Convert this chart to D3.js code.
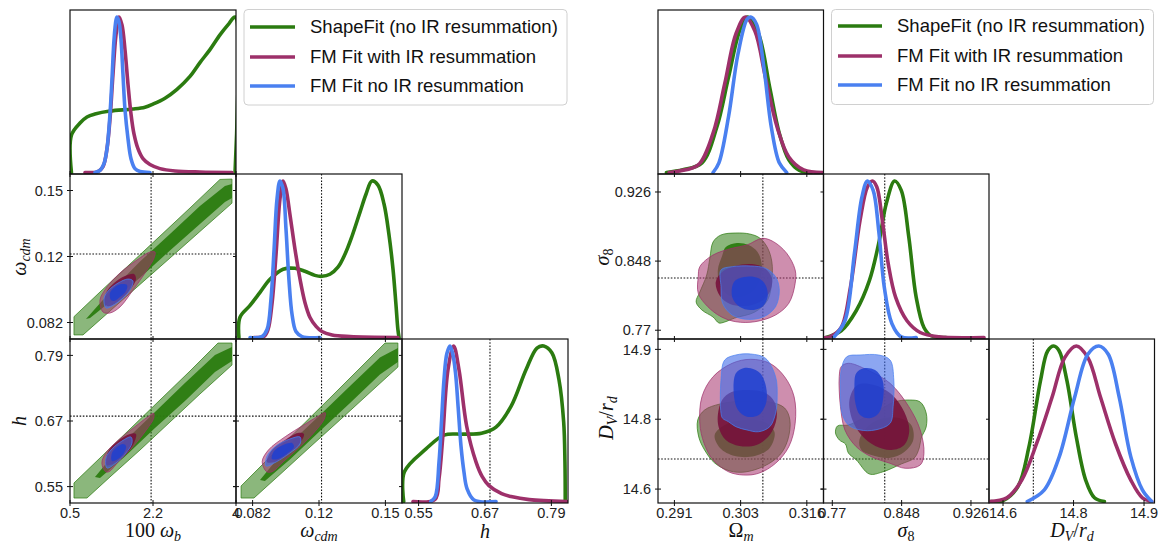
<!DOCTYPE html>
<html><head><meta charset="utf-8">
<script src="https://cdn.jsdelivr.net/npm/d3@7"></script>
<style>body{margin:0;background:#fff;}svg{display:block;}</style>
</head><body>
<svg id="c" width="1164" height="543"></svg>
<script>
// ===================== DATA =====================
const seriesNames = ["ShapeFit (no IR resummation)", "FM Fit with IR resummation", "FM Fit no IR resummation"];

// ---- axis ranges / ticks (left triangle) ----
const wbDomain = [0.5, 4.0],      wbTicks = [0.5, 2.25, 4.0],     wbTickLabels = ["0.5", "2.2", "4"];
const wcDomain = [0.0735, 0.1585], wcTicks = [0.082, 0.116, 0.15], wcTickLabels = ["0.082", "0.12", "0.15"];
const hDomain  = [0.52, 0.82],     hTicks  = [0.55, 0.67, 0.79],   hTickLabels  = ["0.55", "0.67", "0.79"];
// ---- axis ranges / ticks (right triangle) ----
const omDomain = [0.2879, 0.31915], omTicks = [0.291, 0.3035, 0.316], omTickLabels = ["0.291", "0.303", "0.316"];
const s8Domain = [0.7601, 0.9463],  s8Ticks = [0.77, 0.848, 0.926],  s8TickLabels = ["0.77", "0.848", "0.926"];
const dvDomain = [14.6115, 14.912], dvTicks = [14.637, 14.765, 14.893], dvTickLabels = ["14.6", "14.8", "14.9"];

// reference (dotted) values
const wbRef = 2.21, wcRef = 0.1173, hRef = 0.679;
const omRef = 0.3077, s8Ref = 0.829, dvRef = 14.692;

// ---- 1D marginals: [value, relative density] ----
const wb_1d_green = [[0.53,0],[0.53,0.24],[0.711,0.318],[0.858,0.357],[1.027,0.376],[1.343,0.395],[1.828,0.408],[2.081,0.42],[2.25,0.44],[2.503,0.478],[2.756,0.535],[3.03,0.618],[3.24,0.707],[3.451,0.79],[3.662,0.885],[3.83,0.949],[3.98,1.0],[3.98,0]];
const wb_1d_purple = [[0.816,0],[1.09,0.006],[1.196,0.038],[1.28,0.153],[1.343,0.344],[1.406,0.631],[1.47,0.885],[1.533,1.0],[1.596,0.949],[1.659,0.79],[1.723,0.567],[1.786,0.376],[1.849,0.248],[1.933,0.153],[2.039,0.089],[2.186,0.051],[2.397,0.025],[2.714,0.01],[3.24,0.003],[3.915,0]];
const wb_1d_blue = [[1.027,0],[1.132,0.013],[1.217,0.057],[1.28,0.153],[1.343,0.376],[1.385,0.599],[1.428,0.854],[1.47,0.981],[1.491,1.0],[1.533,0.968],[1.575,0.854],[1.617,0.631],[1.659,0.408],[1.723,0.217],[1.786,0.089],[1.87,0.025],[1.976,0.006],[2.186,0]];

const wc_1d_green = [[0.0750,0],[0.0755,0.128],[0.0807,0.205],[0.0858,0.288],[0.0909,0.372],[0.0976,0.436],[0.1037,0.442],[0.1088,0.423],[0.1139,0.397],[0.1175,0.391],[0.1216,0.404],[0.1257,0.449],[0.1293,0.532],[0.1329,0.647],[0.1370,0.801],[0.1401,0.917],[0.1431,1.0],[0.1462,0.974],[0.1493,0.853],[0.1518,0.66],[0.1539,0.436],[0.1554,0.212],[0.1564,0.051],[0.1570,0]];
const wc_1d_purple = [[0.0827,0],[0.0878,0.006],[0.0899,0.051],[0.0919,0.212],[0.0940,0.532],[0.0960,0.885],[0.0976,1.0],[0.0991,0.949],[0.1011,0.788],[0.1037,0.564],[0.1063,0.372],[0.1088,0.224],[0.1114,0.128],[0.1145,0.071],[0.1175,0.038],[0.1227,0.016],[0.1319,0.006],[0.1564,0]];
const wc_1d_blue = [[0.0807,0],[0.0868,0.006],[0.0894,0.051],[0.0914,0.244],[0.0930,0.564],[0.0945,0.885],[0.0960,1.0],[0.0976,0.949],[0.0991,0.692],[0.1006,0.372],[0.1022,0.147],[0.1042,0.038],[0.1073,0.006],[0.1165,0]];

const h_1d_green = [[0.5231,0],[0.5243,0.191],[0.5634,0.338],[0.5959,0.427],[0.6302,0.433],[0.6637,0.439],[0.6899,0.478],[0.7170,0.611],[0.7441,0.847],[0.7639,0.987],[0.7761,1.0],[0.7911,0.955],[0.8037,0.783],[0.8122,0.51],[0.8145,0.255],[0.8150,0]];
const h_1d_purple = [[0.5399,0],[0.5796,0.013],[0.587,0.15],[0.5934,0.401],[0.6031,0.847],[0.6134,1.0],[0.6230,0.847],[0.6369,0.484],[0.6537,0.255],[0.665,0.16],[0.6772,0.102],[0.70,0.05],[0.7170,0.032],[0.75,0.012],[0.8182,0]];
const h_1d_blue = [[0.572,0],[0.580,0.03],[0.5869,0.255],[0.5915,0.52],[0.5959,0.783],[0.601,0.95],[0.6067,1.0],[0.6117,0.95],[0.6167,0.828],[0.6216,0.6],[0.6266,0.357],[0.632,0.19],[0.6375,0.083],[0.6501,0.01],[0.6899,0]];

const om_1d_green = [[0.2895,0],[0.2926,0.017],[0.2962,0.062],[0.2990,0.291],[0.3012,0.610],[0.3033,0.909],[0.3048,1.0],[0.3069,0.890],[0.3090,0.546],[0.3108,0.253],[0.3126,0.081],[0.3146,0.013],[0.3168,0]];
const om_1d_purple = [[0.2900,0],[0.2919,0.01],[0.2955,0.049],[0.2983,0.253],[0.3005,0.571],[0.3026,0.890],[0.3044,1.0],[0.3062,0.909],[0.3082,0.610],[0.3104,0.291],[0.3126,0.1],[0.3154,0.017],[0.3190,0]];
const om_1d_blue = [[0.2983,0],[0.2994,0.062],[0.3012,0.355],[0.3030,0.762],[0.3047,0.985],[0.3054,1.0],[0.3065,0.954],[0.3079,0.673],[0.3093,0.291],[0.3108,0.062],[0.3122,0]];

const s8_1d_green = [[0.7630,0],[0.7800,0.043],[0.7969,0.171],[0.8117,0.363],[0.8222,0.601],[0.8308,0.857],[0.8401,1.0],[0.8476,0.940],[0.8561,0.641],[0.8644,0.256],[0.8731,0.064],[0.8812,0.011],[0.8981,0]];
const s8_1d_purple = [[0.7620,0],[0.7673,0.004],[0.7800,0.064],[0.7904,0.321],[0.8012,0.748],[0.8095,0.962],[0.8151,1.0],[0.8201,0.962],[0.8263,0.748],[0.8329,0.472],[0.8413,0.256],[0.8540,0.107],[0.8689,0.032],[0.8900,0.004],[0.9407,0]];
const s8_1d_blue = [[0.7713,0],[0.7842,0.107],[0.7949,0.537],[0.8033,0.897],[0.8095,1.0],[0.8160,0.940],[0.8222,0.684],[0.8285,0.321],[0.8371,0.088],[0.8476,0.004],[0.8644,0]];

const dv_1d_green = [[14.615,0],[14.637,0.006],[14.664,0.096],[14.684,0.351],[14.705,0.777],[14.718,0.968],[14.729,1.0],[14.739,0.968],[14.753,0.777],[14.770,0.415],[14.787,0.138],[14.803,0.024],[14.821,0]];
const dv_1d_purple = [[14.612,0],[14.644,0.024],[14.671,0.138],[14.698,0.373],[14.726,0.670],[14.749,0.925],[14.770,1.0],[14.791,0.925],[14.814,0.670],[14.841,0.373],[14.869,0.138],[14.890,0.024],[14.907,0]];
const dv_1d_blue = [[14.681,0],[14.712,0.075],[14.739,0.287],[14.767,0.670],[14.791,0.947],[14.811,1.0],[14.828,0.947],[14.848,0.670],[14.869,0.287],[14.890,0.075],[14.907,0]];

// ---- 2D contours (95% and 68%): [x, y] ----
const wbwc_green_95 = [[0.584,0.0850],[1.132,0.0977],[1.765,0.1121],[2.397,0.1265],[3.03,0.1410],[3.662,0.1557],[3.915,0.1559],[3.915,0.1435],[3.24,0.1289],[2.608,0.1152],[1.976,0.1016],[1.343,0.0879],[0.774,0.0756],[0.584,0.0756]];
const wbwc_green_68 = [[0.837,0.0838],[1.343,0.0977],[1.976,0.1134],[2.608,0.1276],[3.24,0.1420],[3.767,0.1523],[3.915,0.1533],[3.915,0.1461],[3.767,0.1441],[3.24,0.1327],[2.608,0.1191],[1.976,0.1051],[1.343,0.0926],[0.922,0.0843]];
const wbwc_purple_95 = [[1.196,0.0874],[1.132,0.0936],[1.28,0.1003],[1.554,0.1075],[1.912,0.1142],[2.186,0.1183],[2.292,0.1183],[2.271,0.1152],[2.123,0.1090],[1.828,0.0987],[1.554,0.0900],[1.343,0.0869]];
const wbwc_purple_68 = [[1.238,0.0910],[1.259,0.0972],[1.428,0.1023],[1.659,0.1059],[1.849,0.1070],[1.891,0.1044],[1.765,0.0987],[1.554,0.0936],[1.343,0.0905]];
const wbwc_blue_95 = [[1.259,0.0895],[1.217,0.0946],[1.322,0.0987],[1.512,0.1023],[1.723,0.1044],[1.828,0.1034],[1.765,0.0987],[1.596,0.0941],[1.385,0.0905]];
const wbwc_blue_68 = [[1.364,0.0936],[1.343,0.0972],[1.449,0.1003],[1.596,0.1018],[1.702,0.1013],[1.681,0.0982],[1.554,0.0951],[1.428,0.0931]];

const wbh_green_95 = [[0.584,0.5566],[1.132,0.6023],[1.765,0.6553],[2.397,0.7084],[3.03,0.7614],[3.62,0.8126],[3.915,0.8126],[3.915,0.7724],[3.24,0.7194],[2.608,0.6681],[1.976,0.6169],[1.343,0.5676],[0.858,0.5291],[0.584,0.5291]];
const wbh_green_68 = [[1.027,0.5676],[1.659,0.6341],[2.292,0.6864],[2.924,0.7395],[3.557,0.7907],[3.915,0.8053],[3.915,0.7797],[3.557,0.7596],[2.924,0.7066],[2.292,0.6572],[1.659,0.6049],[1.132,0.5657]];
const wbh_purple_95 = [[1.250,0.5773],[1.172,0.5926],[1.250,0.6109],[1.522,0.6352],[1.870,0.6596],[2.144,0.6778],[2.264,0.6841],[2.264,0.6749],[2.108,0.6535],[1.828,0.6230],[1.522,0.5955],[1.322,0.5773]];
const wbh_purple_68 = [[1.259,0.5895],[1.301,0.6133],[1.512,0.6334],[1.765,0.6462],[1.891,0.6462],[1.849,0.6297],[1.659,0.6078],[1.406,0.5913]];
const wbh_blue_95 = [[1.280,0.5840],[1.259,0.6023],[1.385,0.6188],[1.596,0.6334],[1.786,0.6407],[1.807,0.6297],[1.681,0.6115],[1.470,0.5932]];
const wbh_blue_68 = [[1.385,0.5968],[1.385,0.6115],[1.491,0.6224],[1.617,0.6279],[1.681,0.6243],[1.638,0.6115],[1.512,0.6005]];

const wch_green_95 = [[0.0761,0.5511],[0.0909,0.6041],[0.1063,0.6581],[0.1216,0.7120],[0.1370,0.7669],[0.1498,0.8126],[0.1564,0.8126],[0.1564,0.7687],[0.1421,0.7221],[0.1267,0.6718],[0.1114,0.6224],[0.0960,0.5721],[0.0827,0.5291],[0.0761,0.5291]];
const wch_green_68 = [[0.0858,0.5621],[0.1011,0.6288],[0.1165,0.6810],[0.1319,0.7340],[0.1472,0.7861],[0.1564,0.8035],[0.1564,0.7779],[0.1472,0.7550],[0.1319,0.7029],[0.1165,0.6517],[0.1011,0.5996],[0.0883,0.5602]];
const wch_purple_95 = [[0.0892,0.5773],[0.0869,0.5955],[0.0901,0.6169],[0.0987,0.6413],[0.1082,0.6627],[0.1157,0.6791],[0.1192,0.6852],[0.1186,0.6731],[0.1138,0.6504],[0.1063,0.6230],[0.0977,0.5955],[0.0920,0.5773]];
const wch_purple_68 = [[0.0894,0.5950],[0.0919,0.6169],[0.0986,0.6352],[0.1052,0.6480],[0.1083,0.6462],[0.1063,0.6297],[0.1011,0.6115],[0.0935,0.5950]];
const wch_blue_95 = [[0.0889,0.5877],[0.0894,0.6060],[0.0940,0.6243],[0.1011,0.6371],[0.1063,0.6407],[0.1063,0.6279],[0.1011,0.6115],[0.0940,0.5950]];
const wch_blue_68 = [[0.0919,0.6005],[0.0930,0.6151],[0.0976,0.6261],[0.1022,0.6297],[0.1032,0.6224],[0.1001,0.6115],[0.0950,0.6005]];

const oms8_green_95 = [[0.2983,0.8696],[0.2998,0.8775],[0.3026,0.8797],[0.3052,0.8786],[0.3071,0.8741],[0.3086,0.8628],[0.3094,0.8470],[0.3094,0.8267],[0.3086,0.8041],[0.3062,0.7906],[0.3024,0.7838],[0.3005,0.7793],[0.2994,0.7782],[0.2983,0.7849],[0.2962,0.7928],[0.2951,0.8019],[0.2958,0.8131],[0.2971,0.8323],[0.2977,0.8515]];
const oms8_green_68 = [[0.3000,0.8538],[0.3007,0.8639],[0.3028,0.8684],[0.3050,0.8662],[0.3067,0.8583],[0.3075,0.8436],[0.3071,0.8267],[0.3056,0.8131],[0.3033,0.8075],[0.3011,0.8098],[0.2996,0.8210],[0.2992,0.8380]];
const oms8_purple_95 = [[0.2955,0.8304],[0.2958,0.8417],[0.2983,0.8549],[0.3019,0.8625],[0.3047,0.8662],[0.3076,0.8737],[0.3097,0.8699],[0.3122,0.8568],[0.3138,0.8380],[0.3138,0.8230],[0.3126,0.8004],[0.3101,0.7872],[0.3062,0.7796],[0.3026,0.7796],[0.2998,0.7853],[0.2973,0.7966],[0.2955,0.8117]];
const oms8_purple_68 = [[0.2988,0.8244],[0.3000,0.8357],[0.3024,0.8425],[0.3056,0.8447],[0.3080,0.8402],[0.3094,0.8289],[0.3090,0.8131],[0.3071,0.8019],[0.3043,0.7973],[0.3015,0.7996],[0.2996,0.8086]];
const oms8_blue_95 = [[0.2998,0.8380],[0.3019,0.8417],[0.3054,0.8425],[0.3082,0.8399],[0.3101,0.8304],[0.3108,0.8154],[0.3101,0.7966],[0.3079,0.7853],[0.3047,0.7823],[0.3019,0.7872],[0.3001,0.8004],[0.2998,0.8191]];
const oms8_blue_68 = [[0.3019,0.8191],[0.3026,0.8267],[0.3047,0.8304],[0.3069,0.8286],[0.3082,0.8210],[0.3086,0.8078],[0.3076,0.7966],[0.3054,0.7928],[0.3033,0.7966],[0.3020,0.8060]];

const omdv_green_95 = [[0.2954,14.7636],[0.2967,14.7819],[0.2996,14.7929],[0.3043,14.7984],[0.3090,14.7966],[0.3118,14.7856],[0.3128,14.7636],[0.3124,14.7269],[0.3109,14.6995],[0.3080,14.6793],[0.3043,14.6683],[0.3015,14.6701],[0.2986,14.6848],[0.2967,14.7086],[0.2956,14.7324]];
const omdv_green_68 = [[0.2986,14.7361],[0.3005,14.7544],[0.3043,14.7636],[0.3080,14.7599],[0.3099,14.7416],[0.3090,14.7123],[0.3062,14.6976],[0.3024,14.6976],[0.2996,14.7123]];
const omdv_purple_95 = [[0.2958,14.7575],[0.2962,14.8063],[0.2983,14.8429],[0.3019,14.8675],[0.3054,14.8748],[0.3090,14.8675],[0.3118,14.8429],[0.3136,14.8063],[0.3138,14.7575],[0.3126,14.7147],[0.3101,14.6842],[0.3069,14.6659],[0.3040,14.6628],[0.3012,14.6688],[0.2983,14.6903],[0.2966,14.7209]];
const omdv_purple_68 = [[0.2992,14.7727],[0.3000,14.8002],[0.3018,14.8149],[0.3052,14.8186],[0.3082,14.8131],[0.3099,14.7966],[0.3103,14.7672],[0.3090,14.7361],[0.3065,14.7178],[0.3033,14.7159],[0.3007,14.7269],[0.2994,14.7489]];
const omdv_blue_95 = [[0.2998,14.7759],[0.2998,14.8369],[0.3005,14.8735],[0.3026,14.8827],[0.3054,14.8845],[0.3082,14.8766],[0.3101,14.8429],[0.3104,14.8063],[0.3101,14.7759],[0.3090,14.7513],[0.3069,14.7421],[0.3047,14.7453],[0.3026,14.7513],[0.3012,14.7605],[0.3001,14.7667]];
const omdv_blue_68 = [[0.3026,14.8491],[0.3040,14.8583],[0.3054,14.8583],[0.3072,14.8491],[0.3083,14.8246],[0.3083,14.7942],[0.3069,14.7727],[0.3047,14.7696],[0.3030,14.7819],[0.3022,14.8125]];

const s8dv_green_95 = [[0.7736,14.7398],[0.7758,14.7526],[0.7881,14.7544],[0.8005,14.7636],[0.8229,14.7819],[0.8397,14.7966],[0.8566,14.8002],[0.8689,14.7966],[0.8756,14.7764],[0.8756,14.7508],[0.8700,14.7306],[0.8678,14.7123],[0.8622,14.6940],[0.8476,14.6830],[0.8263,14.6683],[0.8117,14.6646],[0.7971,14.6903],[0.7881,14.7031],[0.7848,14.7196],[0.7780,14.7269]];
const s8dv_green_68 = [[0.8005,14.7269],[0.8117,14.7544],[0.8285,14.7672],[0.8453,14.7672],[0.8588,14.7544],[0.8611,14.7269],[0.8510,14.7049],[0.8341,14.6940],[0.8139,14.6995],[0.8027,14.7086]];
const s8dv_purple_95 = [[0.7778,14.8429],[0.7800,14.8612],[0.7881,14.8675],[0.8095,14.8552],[0.8350,14.8308],[0.8561,14.7880],[0.8689,14.7453],[0.8731,14.7026],[0.8689,14.6811],[0.8521,14.6751],[0.8350,14.6842],[0.8139,14.6963],[0.7969,14.7147],[0.7842,14.7453],[0.7792,14.7880],[0.7778,14.8186]];
const s8dv_purple_68 = [[0.7893,14.8002],[0.7982,14.8277],[0.8173,14.8277],[0.8375,14.8094],[0.8510,14.7782],[0.8566,14.7453],[0.8510,14.7178],[0.8364,14.7086],[0.8184,14.7159],[0.8027,14.7361],[0.7926,14.7636]];
const s8dv_blue_95 = [[0.7863,14.8796],[0.8012,14.8827],[0.8222,14.8827],[0.8350,14.8735],[0.8392,14.8369],[0.8384,14.7880],[0.8350,14.7575],[0.8181,14.7453],[0.8012,14.7453],[0.7881,14.7544],[0.7809,14.7759],[0.7792,14.8186],[0.7800,14.8552]];
const s8dv_blue_68 = [[0.7969,14.8491],[0.8053,14.8583],[0.8181,14.8552],[0.8265,14.8369],[0.8274,14.8063],[0.8222,14.7759],[0.8117,14.7667],[0.8012,14.7727],[0.7960,14.7942],[0.7949,14.8246]];

// ===================== STYLE =====================
const lineColors = ["#2b7b10", "#9d306a", "#4a80f0"];
const fill95 = [{c:"#2b7b10", o:0.55}, {c:"#a5326c", o:0.55}, {c:"#3f6ae8", o:0.6}];
const fill68 = [{c:"#2b7b10", o:0.95}, {c:"#750d3a", o:0.85}, {c:"#1f3fd0", o:0.85}];
const SANS = "'Liberation Sans', Arial, sans-serif";
const SERIF = "'Liberation Serif', 'DejaVu Serif', serif";
const rowY = [[10,174],[174,339],[339,503]];

const svg = d3.select("#c");
const defs = svg.append("defs");

function mathText(x, y, parts, rotate) {
  const t = svg.append("text")
    .attr("transform", `translate(${x},${y})` + (rotate ? " rotate(-90)" : ""))
    .attr("text-anchor", "middle").attr("font-family", SERIF)
    .attr("font-size", 20).attr("fill", "#111");
  let prevSub = false;
  parts.forEach(p => {
    const ts = t.append("tspan").text(p.t);
    if (p.it) ts.attr("font-style", "italic");
    if (p.sub) { ts.attr("font-size", 14); if (!prevSub) ts.attr("dy", 4); }
    else if (prevSub) ts.attr("dy", -4);
    prevSub = !!p.sub;
  });
}

function drawGrid(o) {
  const cols = o.cols;
  for (let i = 0; i < 3; i++) for (let j = 0; j <= i; j++) {
    const x0 = cols[j], x1 = cols[j+1], y0 = rowY[i][0], y1 = rowY[i][1];
    const xs = d3.scaleLinear(o.params[j].dom, [x0, x1]);
    const cid = `clip_${o.id}_${i}${j}`;
    defs.append("clipPath").attr("id", cid).append("rect")
      .attr("x", x0).attr("y", y0).attr("width", x1 - x0).attr("height", y1 - y0);
    const g = svg.append("g");
    const gc = g.append("g").attr("clip-path", `url(#${cid})`);
    const dotted = sel => sel.attr("stroke", "#111").attr("stroke-width", 1.1).attr("stroke-dasharray", "1.6,1.6").attr("fill", "none");
    let ys;
    if (i === j) {
      ys = d3.scaleLinear([0, 1], [y1 - 1.5, y0 + 7]);
      if (i > 0) gc.append("line").attr("x1", xs(o.refs[j])).attr("x2", xs(o.refs[j])).attr("y1", y0).attr("y2", y1).call(dotted);
      const line = d3.line().x(d => xs(d[0])).y(d => ys(d[1])).curve(d3.curveCatmullRom.alpha(0.5));
      o.oneD[i].forEach((pts, s) => {
        gc.append("path").attr("d", line(pts)).attr("fill", "none")
          .attr("stroke", lineColors[s]).attr("stroke-width", 3.6)
          .attr("stroke-linejoin", "round").attr("stroke-linecap", "round");
      });
    } else {
      ys = d3.scaleLinear(o.params[i].dom, [y1, y0]);
      gc.append("line").attr("x1", xs(o.refs[j])).attr("x2", xs(o.refs[j])).attr("y1", y0).attr("y2", y1).call(dotted);
      gc.append("line").attr("x1", x0).attr("x2", x1).attr("y1", ys(o.refs[i])).attr("y2", ys(o.refs[i])).call(dotted);
      const key = `${i}${j}`;
      o.twoD[key].forEach((lev, s) => {
        const crv = (s === 0 && o.bandGreen) ? d3.curveLinearClosed : d3.curveCatmullRomClosed.alpha(0.5);
        const ln = d3.line().x(d => xs(d[0])).y(d => ys(d[1])).curve(crv);
        gc.append("path").attr("d", ln(lev[0])).attr("fill", fill95[s].c).attr("fill-opacity", fill95[s].o)
          .attr("stroke", lineColors[s]).attr("stroke-width", 0.8).attr("stroke-opacity", 0.9);
        gc.append("path").attr("d", ln(lev[1])).attr("fill", fill68[s].c).attr("fill-opacity", fill68[s].o)
          .attr("stroke", "none");
      });
      const yt = o.params[i].ticks;
      g.selectAll(null).data(yt).join("line").attr("x1", x0 - 3).attr("x2", x0 + 3)
        .attr("y1", d => ys(d)).attr("y2", d => ys(d)).attr("stroke", "#111");
      g.selectAll(null).data(yt).join("line").attr("x1", x1 - 3).attr("x2", x1)
        .attr("y1", d => ys(d)).attr("y2", d => ys(d)).attr("stroke", "#111");
      if (j === 0) {
        g.selectAll(null).data(yt).join("text").attr("x", x0 - 7).attr("y", d => ys(d)).attr("dy", "0.36em")
          .attr("text-anchor", "end").attr("font-family", SANS).attr("font-size", 14.5).attr("fill", "#222")
          .text((d, k) => o.params[i].labels[k]);
      }
    }
    const xt = o.params[j].ticks;
    g.selectAll(null).data(xt).join("line").attr("x1", d => xs(d)).attr("x2", d => xs(d))
      .attr("y1", y1 - 3).attr("y2", y1 + 3).attr("stroke", "#111");
    if (i === 2) {
      g.selectAll(null).data(xt).join("text").attr("x", d => xs(d)).attr("y", y1 + 15)
        .attr("text-anchor", "middle").attr("font-family", SANS).attr("font-size", 14.5).attr("fill", "#222")
        .text((d, k) => o.params[j].labels[k]);
    }
    g.append("rect").attr("x", x0).attr("y", y0).attr("width", x1 - x0).attr("height", y1 - y0)
      .attr("fill", "none").attr("stroke", "#111").attr("stroke-width", 1.2);
  }
  const L = o.legend;
  const lg = svg.append("g");
  lg.append("rect").attr("x", L.x).attr("y", L.y).attr("width", L.w).attr("height", L.h).attr("rx", 4)
    .attr("fill", "#fff").attr("fill-opacity", 0.85).attr("stroke", "#d0d0d0").attr("stroke-width", 1);
  seriesNames.forEach((name, s) => {
    const yy = L.rows[s];
    lg.append("line").attr("x1", L.lx0).attr("x2", L.lx1).attr("y1", yy).attr("y2", yy)
      .attr("stroke", lineColors[s]).attr("stroke-width", 3.6);
    lg.append("text").attr("x", L.tx).attr("y", yy).attr("dy", "0.35em").attr("font-family", SANS)
      .attr("font-size", 18.5).attr("fill", "#111").text(name);
  });
}

drawGrid({
  id: "L", cols: [70, 236, 402, 568], bandGreen: true,
  params: [{dom: wbDomain, ticks: wbTicks, labels: wbTickLabels},
           {dom: wcDomain, ticks: wcTicks, labels: wcTickLabels},
           {dom: hDomain, ticks: hTicks, labels: hTickLabels}],
  refs: [wbRef, wcRef, hRef],
  oneD: [[wb_1d_green, wb_1d_purple, wb_1d_blue], [wc_1d_green, wc_1d_purple, wc_1d_blue], [h_1d_green, h_1d_purple, h_1d_blue]],
  twoD: {"10": [[wbwc_green_95, wbwc_green_68], [wbwc_purple_95, wbwc_purple_68], [wbwc_blue_95, wbwc_blue_68]],
         "20": [[wbh_green_95, wbh_green_68], [wbh_purple_95, wbh_purple_68], [wbh_blue_95, wbh_blue_68]],
         "21": [[wch_green_95, wch_green_68], [wch_purple_95, wch_purple_68], [wch_blue_95, wch_blue_68]]},
  legend: {x: 244, y: 9.5, w: 323, h: 95.5, lx0: 250, lx1: 295, tx: 310, rows: [27, 57, 86]}
});

drawGrid({
  id: "R", cols: [658, 823.5, 989, 1154.5], bandGreen: false,
  params: [{dom: omDomain, ticks: omTicks, labels: omTickLabels},
           {dom: s8Domain, ticks: s8Ticks, labels: s8TickLabels},
           {dom: dvDomain, ticks: dvTicks, labels: dvTickLabels}],
  refs: [omRef, s8Ref, dvRef],
  oneD: [[om_1d_green, om_1d_purple, om_1d_blue], [s8_1d_green, s8_1d_purple, s8_1d_blue], [dv_1d_green, dv_1d_purple, dv_1d_blue]],
  twoD: {"10": [[oms8_green_95, oms8_green_68], [oms8_purple_95, oms8_purple_68], [oms8_blue_95, oms8_blue_68]],
         "20": [[omdv_green_95, omdv_green_68], [omdv_purple_95, omdv_purple_68], [omdv_blue_95, omdv_blue_68]],
         "21": [[s8dv_green_95, s8dv_green_68], [s8dv_purple_95, s8dv_purple_68], [s8dv_blue_95, s8dv_blue_68]]},
  legend: {x: 831.5, y: 9.5, w: 322, h: 95, lx0: 838, lx1: 882, tx: 897, rows: [26, 56, 85]}
});

// axis titles
mathText(153, 537, [{t:"100 "}, {t:"ω", it:true}, {t:"b", it:true, sub:true}]);
mathText(319, 537, [{t:"ω", it:true}, {t:"cdm", it:true, sub:true}]);
mathText(485, 538, [{t:"h", it:true}]);
mathText(26, 257, [{t:"ω", it:true}, {t:"cdm", it:true, sub:true}], true);
mathText(26, 421, [{t:"h", it:true}], true);

mathText(741, 537, [{t:"Ω"}, {t:"m", it:true, sub:true}]);
mathText(906, 537, [{t:"σ", it:true}, {t:"8", sub:true}]);
mathText(1072, 537, [{t:"D", it:true}, {t:"V", it:true, sub:true}, {t:"/"}, {t:"r", it:true}, {t:"d", it:true, sub:true}]);
mathText(609, 257, [{t:"σ", it:true}, {t:"8", sub:true}], true);
mathText(613, 418, [{t:"D", it:true}, {t:"V", it:true, sub:true}, {t:"/"}, {t:"r", it:true}, {t:"d", it:true, sub:true}], true);
</script>
</body></html>
